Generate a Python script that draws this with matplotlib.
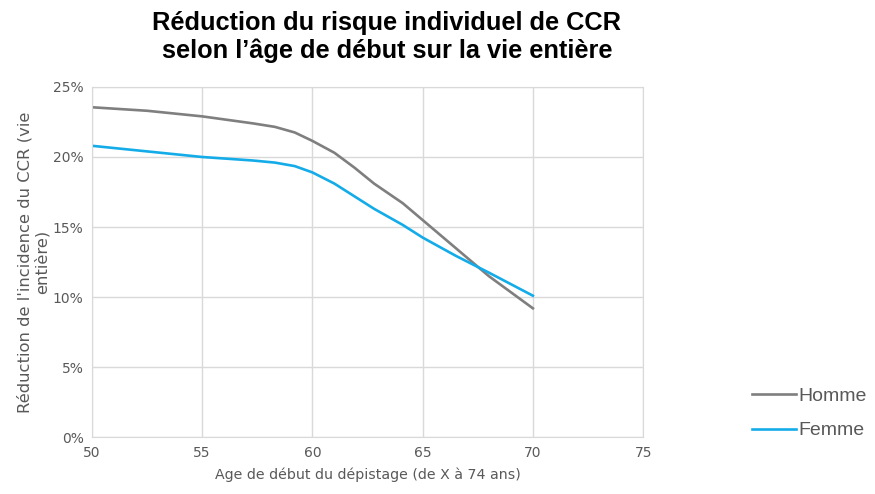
import matplotlib.pyplot as plt
from matplotlib.ticker import FuncFormatter

age = [50, 52.5, 55, 57.3, 58.3, 59.2, 60, 61, 61.9, 62.8, 64.1, 65, 66.5, 68, 70]
homme = [23.55, 23.3, 22.9, 22.4, 22.15, 21.75, 21.15, 20.3, 19.25, 18.1, 16.7, 15.5, 13.5, 11.5, 9.2]
femme = [20.8, 20.4, 20.0, 19.75, 19.6, 19.35, 18.9, 18.1, 17.2, 16.3, 15.15, 14.25, 12.95, 11.75, 10.1]

xticks = [50, 55, 60, 65, 70, 75]
yticks = [0, 5, 10, 15, 20, 25]

grey_txt = "#595959"
grid_c = "#d9d9d9"

fig = plt.figure(figsize=(8.75, 4.94), dpi=100)
ax = fig.add_axes([0.105, 0.115, 0.63, 0.709])

ax.plot(age, homme, color="#7f7f7f", lw=1.9, label="Homme", solid_joinstyle="round")
ax.plot(age, femme, color="#14ace8", lw=1.9, label="Femme", solid_joinstyle="round")

ax.set_xlim(50, 75)
ax.set_ylim(0, 25)
ax.set_xticks(xticks)
ax.set_yticks(yticks)
ax.yaxis.set_major_formatter(FuncFormatter(lambda v, p: f"{v:.0f}%"))
ax.grid(True, color=grid_c, lw=1)
ax.set_axisbelow(True)
for s in ax.spines.values():
    s.set_color(grid_c)
ax.tick_params(length=0, colors=grey_txt, labelsize=10, pad=6)

ax.set_xlabel("Age de début du dépistage (de X à 74 ans)", color=grey_txt, fontsize=10.2, labelpad=6)
ax.set_ylabel("Réduction de l'incidence du CCR (vie\nentière)", color=grey_txt, fontsize=11.8, labelpad=2)

fig.text(0.442, 0.925, "Réduction du risque individuel de CCR\nselon l’âge de début sur la vie entière",
         ha="center", va="center", fontsize=18.3, fontweight="bold",
         family="Liberation Sans", linespacing=1.22)

fig.legend(loc="center left", bbox_to_anchor=(0.859, 0.163), frameon=False,
           prop={"family": "Liberation Sans", "size": 14}, handlelength=2.3,
           handletextpad=0.12, labelspacing=0.85, borderpad=0, borderaxespad=0,
           labelcolor=grey_txt)

fig.savefig("out.png", dpi=100)
